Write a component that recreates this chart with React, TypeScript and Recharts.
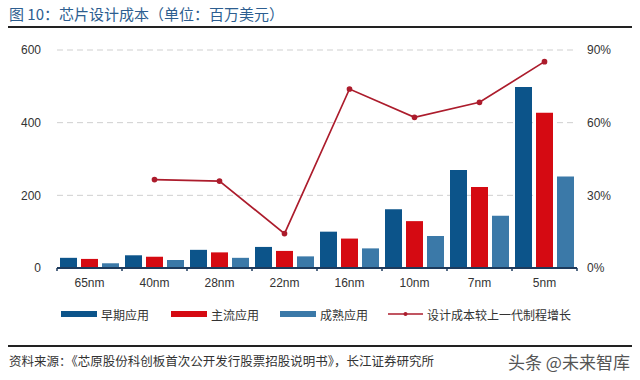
import { ComposedChart, Bar, Line, XAxis, YAxis, CartesianGrid } from 'recharts';

// 芯片设计成本（百万美元），按制程
const categories = ['65nm', '40nm', '28nm', '22nm', '16nm', '10nm', '7nm', '5nm'];
const earlyCost = [28, 35, 50, 58, 100, 162, 270, 498];
const mainstreamCost = [25, 31, 43, 47, 81, 129, 223, 427];
const matureCost = [13, 22, 28, 32, 54, 88, 144, 252];
// 较上一代增长 (%)
const costGrowth = [null, 36.5, 35.9, 14.2, 73.9, 62.2, 68.4, 85.2];
const leftTicks = [0, 200, 400, 600];
const rightTicks = [0, 30, 60, 90];

const data = categories.map((name, i) => ({
  name,
  early: earlyCost[i],
  mainstream: mainstreamCost[i],
  mature: matureCost[i],
  growth: costGrowth[i],
}));

const W = 640;
const LEFT_W = 57;
const RIGHT_W = 63;
const halfBand = (W - LEFT_W - RIGHT_W) / categories.length / 2;

const cjk = '"Noto Sans CJK SC", "Liberation Sans", sans-serif';
const latin = '"Liberation Sans", Arial, sans-serif';

const C_EARLY = '#0C548A';
const C_MAIN = '#D50A12';
const C_MATURE = '#3B79A8';
const C_LINE = '#AC1C2C';

// category label plus small marks on the category boundaries
const XTick = (props: any) => {
  const { x, y, payload, index } = props;
  return (
    <g>
      <line x1={x - halfBand} x2={x - halfBand} y1={y} y2={y + 3} stroke="#1d3a5c" strokeWidth={1.5} />
      {index === categories.length - 1 && (
        <line x1={x + halfBand} x2={x + halfBand} y1={y} y2={y + 3} stroke="#1d3a5c" strokeWidth={1.5} />
      )}
      <text x={x} y={y + 19} textAnchor="middle" fill="#333" fontSize={12} fontFamily={latin}>
        {payload.value}
      </text>
    </g>
  );
};

const legendItems = [
  { label: '早期应用', color: C_EARLY, x: 61, kind: 'rect' },
  { label: '主流应用', color: C_MAIN, x: 171, kind: 'rect' },
  { label: '成熟应用', color: C_MATURE, x: 280, kind: 'rect' },
  { label: '设计成本较上一代制程增长', color: C_LINE, x: 388, kind: 'line' },
];

export default function App() {
  return (
    <div style={{ position: 'absolute', left: 0, top: 0, width: 640, height: 380, background: '#fff', overflow: 'hidden' }}>
      <div style={{ position: 'absolute', left: 9, top: 3, fontSize: 15, color: '#2D5E90', fontFamily: cjk, whiteSpace: 'nowrap' }}>
        图 10：芯片设计成本（单位：百万美元）
      </div>
      <div style={{ position: 'absolute', left: 8, top: 26, width: 624, height: 2, background: '#222' }} />

      <div style={{ position: 'absolute', left: 0, top: 0 }}>
        <ComposedChart width={640} height={300} data={data} margin={{ top: 50, right: 0, bottom: 0, left: 0 }}>
          <CartesianGrid yAxisId="left" vertical={false} stroke="#cfcfcf" strokeDasharray="6 4" />
          <XAxis
            dataKey="name"
            height={32}
            tickSize={0}
            tickMargin={0}
            tickLine={false}
            axisLine={{ stroke: '#1d3a5c', strokeWidth: 2 }}
            tick={<XTick />}
            interval={0}
          />
          <YAxis
            yAxisId="left"
            width={LEFT_W}
            domain={[0, 600]}
            ticks={leftTicks}
            axisLine={false}
            tickLine={false}
            tickSize={0}
            tickMargin={16}
            tick={{ fill: '#333', fontSize: 12, fontFamily: latin }}
          />
          <YAxis
            yAxisId="right"
            orientation="right"
            width={RIGHT_W}
            domain={[0, 90]}
            ticks={rightTicks}
            axisLine={false}
            tickLine={false}
            tickSize={0}
            tickMargin={10}
            tickFormatter={(v: number) => `${v}%`}
            tick={{ fill: '#333', fontSize: 12, fontFamily: latin, textAnchor: 'start' }}
          />
          <Bar yAxisId="left" dataKey="early" fill={C_EARLY} barSize={17} isAnimationActive={false} />
          <Bar yAxisId="left" dataKey="mainstream" fill={C_MAIN} barSize={17} isAnimationActive={false} />
          <Bar yAxisId="left" dataKey="mature" fill={C_MATURE} barSize={17} isAnimationActive={false} />
          <Line
            yAxisId="right"
            dataKey="growth"
            stroke={C_LINE}
            strokeWidth={1.7}
            dot={{ r: 2, fill: C_LINE, stroke: C_LINE }}
            isAnimationActive={false}
          />
        </ComposedChart>
      </div>

      {legendItems.map((it) => (
        <div key={it.label} style={{ position: 'absolute', left: it.x, top: 306, height: 16, display: 'flex', alignItems: 'center', whiteSpace: 'nowrap' }}>
          {it.kind === 'rect' ? (
            <div style={{ width: 36, height: 6, background: it.color }} />
          ) : (
            <svg width={35} height={8}>
              <line x1={0} x2={35} y1={4} y2={4} stroke={it.color} strokeWidth={1.7} />
              <circle cx={17.5} cy={4} r={2} fill={it.color} />
            </svg>
          )}
          <span style={{ marginLeft: 4, fontSize: 12, color: '#333', fontFamily: cjk }}>{it.label}</span>
        </div>
      ))}

      <div style={{ position: 'absolute', left: 8, top: 345, width: 624, height: 2, background: '#222' }} />
      <div style={{ position: 'absolute', left: 9, top: 351, fontSize: 12.5, color: '#333', fontFamily: cjk, whiteSpace: 'nowrap' }}>
        资料来源：《芯原股份科创板首次公开发行股票招股说明书》，长江证券研究所
      </div>
      <div style={{ position: 'absolute', left: 508, top: 349, fontSize: 17, color: '#555', fontFamily: cjk, whiteSpace: 'nowrap' }}>
        头条 @未来智库
      </div>
    </div>
  );
}
